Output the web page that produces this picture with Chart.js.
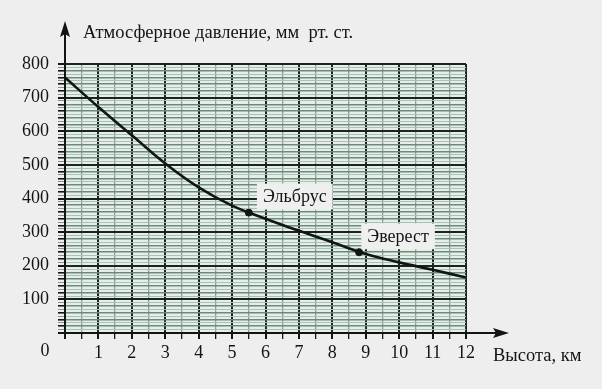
<!DOCTYPE html>
<html>
<head>
<meta charset="utf-8">
<script src="https://cdn.jsdelivr.net/npm/chart.js@4"></script>
<style>
  html, body { margin: 0; padding: 0; background: #eeeeee; }
  canvas { display: block; }
</style>
</head>
<body>
<canvas id="chart" width="602" height="389"></canvas>
<script>
// heights, km and pressure, mm Hg
const heights = [0, 1, 2, 3, 4, 5, 6, 7, 8, 9, 10, 11, 12];
const pressure = [760, 672, 588, 504, 433, 379, 340, 304, 270, 235, 210, 188, 165];

const peakNames = ['Эльбрус', 'Эверест'];
const peakHeights = [5.5, 8.8];
const peakPressure = [358, 240];

const xTitle = 'Высота, км';
const yTitle = 'Атмосферное давление, мм  рт. ст.';

const FONT = "'Liberation Serif', 'DejaVu Serif', serif";
const INK = '#111613';

function hLineColor(v) {
  if (v % 100 === 0) return '#1b241f';
  if (v % 20 === 0) return '#6e8a7b';
  return '#aebfb5';
}
function hLineWidth(v) {
  if (v % 100 === 0) return 2;
  if (v % 20 === 0) return 1.6;
  return 1;
}

const decor = {
  id: 'decor',
  beforeDraw(c) {
    const a = c.chartArea, ctx = c.ctx;
    ctx.save();
    ctx.fillStyle = '#e3efe8';
    ctx.fillRect(a.left, a.top, a.right - a.left, a.bottom - a.top);
    ctx.restore();
  },
  afterDraw(c) {
    const a = c.chartArea, ctx = c.ctx;
    const xs = c.scales.x, ys = c.scales.y;
    ctx.save();
    ctx.strokeStyle = INK;
    ctx.fillStyle = INK;
    ctx.lineWidth = 2;

    // y axis with arrow
    ctx.beginPath();
    ctx.moveTo(a.left, a.bottom + 6);
    ctx.lineTo(a.left, a.top - 30);
    ctx.stroke();
    ctx.beginPath();
    ctx.moveTo(a.left, a.top - 43);
    ctx.lineTo(a.left + 5, a.top - 27);
    ctx.lineTo(a.left, a.top - 30);
    ctx.lineTo(a.left - 5, a.top - 27);
    ctx.closePath();
    ctx.fill();

    // x axis with arrow
    ctx.beginPath();
    ctx.moveTo(a.left - 6, a.bottom);
    ctx.lineTo(a.right + 30, a.bottom);
    ctx.stroke();
    ctx.beginPath();
    ctx.moveTo(a.right + 43, a.bottom);
    ctx.lineTo(a.right + 27, a.bottom - 5);
    ctx.lineTo(a.right + 30, a.bottom);
    ctx.lineTo(a.right + 27, a.bottom + 5);
    ctx.closePath();
    ctx.fill();

    // texts
    ctx.font = '18.5px ' + FONT;
    ctx.textBaseline = 'middle';
    ctx.textAlign = 'left';
    ctx.fillText(yTitle, a.left + 18, a.top - 31);
    ctx.fillText(xTitle, a.right + 27, a.bottom + 23);
    ctx.font = '18px ' + FONT;
    ctx.textAlign = 'center';
    ctx.fillText('0', a.left - 20, a.bottom + 18);

    // peak labels on light boxes
    peakNames.forEach((name, i) => {
      const px = xs.getPixelForValue(peakHeights[i]);
      const py = ys.getPixelForValue(peakPressure[i]);
      const cx = px + (i === 0 ? 46 : 39);
      const cy = py - 16;
      const w = ctx.measureText(name).width + 12;
      ctx.fillStyle = '#eeefee';
      ctx.fillRect(cx - w / 2, cy - 13, w, 26);
      ctx.fillStyle = INK;
      ctx.fillText(name, cx, cy + 1);
    });
    ctx.restore();
  }
};

new Chart(document.getElementById('chart'), {
  type: 'scatter',
  data: {
    datasets: [
      {
        data: heights.map((h, i) => ({ x: h, y: pressure[i] })),
        showLine: true,
        borderColor: INK,
        borderWidth: 2.6,
        pointRadius: 0,
        tension: 0.4,
        order: 2
      },
      {
        data: peakHeights.map((h, i) => ({ x: h, y: peakPressure[i] })),
        pointRadius: 3.5,
        pointBackgroundColor: INK,
        pointBorderColor: INK,
        order: 1
      }
    ]
  },
  options: {
    responsive: false,
    animation: false,
    layout: { padding: { top: 64, right: 136, left: 0, bottom: 0 } },
    plugins: { legend: { display: false }, tooltip: { enabled: false } },
    scales: {
      x: {
        type: 'linear',
        min: 0, max: 12,
        afterFit: (s) => { s.height = 56; },
        afterBuildTicks: (s) => {
          s.ticks = [];
          for (let v = 0; v <= 24; v++) s.ticks.push({ value: v / 2 });
        },
        border: { display: false },
        grid: {
          color: (ctx) => (ctx.tick && ctx.tick.value % 1 === 0) ? '#1b241f' : '#8e9f95',
          lineWidth: (ctx) => (ctx.tick && ctx.tick.value % 1 === 0) ? 2 : 1.3,
          tickColor: INK,
          tickLength: 6
        },
        ticks: {
          autoSkip: false,
          maxRotation: 0,
          padding: 3,
          color: INK,
          font: { family: FONT, size: 18 },
          callback: (v) => (v > 0 && v % 1 === 0) ? String(v) : ''
        }
      },
      y: {
        type: 'linear',
        min: 0, max: 800,
        afterFit: (s) => { s.width = 65; },
        afterBuildTicks: (s) => {
          s.ticks = [];
          for (let v = 0; v <= 800; v += 10) s.ticks.push({ value: v });
        },
        border: { display: false },
        grid: {
          color: (ctx) => ctx.tick ? hLineColor(ctx.tick.value) : '#aebfb5',
          lineWidth: (ctx) => ctx.tick ? hLineWidth(ctx.tick.value) : 1,
          tickColor: (ctx) => (ctx.tick && ctx.tick.value % 20 === 0) ? INK : '#8a8f8c',
          tickLength: 7
        },
        ticks: {
          autoSkip: false,
          padding: 9,
          color: INK,
          font: { family: FONT, size: 18 },
          callback: (v) => (v > 0 && v % 100 === 0) ? String(v) : ''
        }
      }
    }
  },
  plugins: [decor]
});
</script>
</body>
</html>
